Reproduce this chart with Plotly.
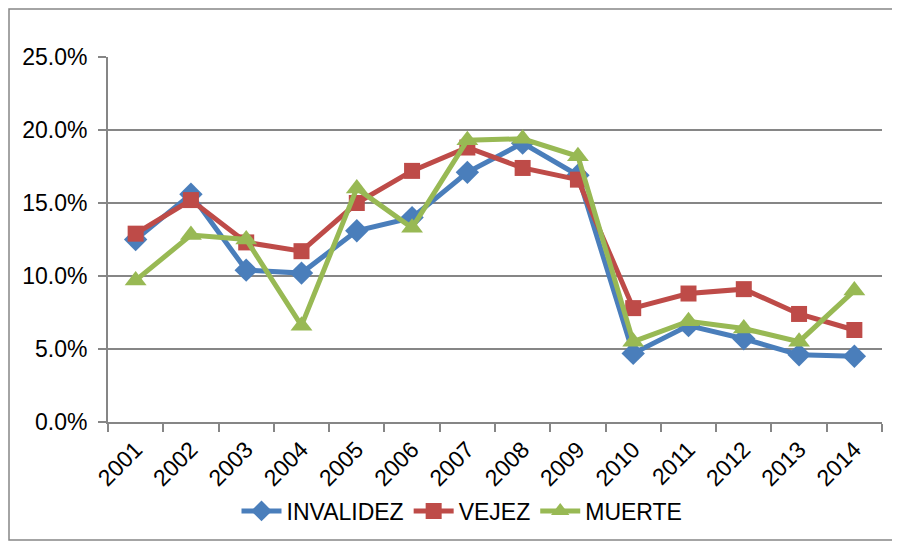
import plotly.graph_objects as go

years = ["2001", "2002", "2003", "2004", "2005", "2006", "2007",
         "2008", "2009", "2010", "2011", "2012", "2013", "2014"]
invalidez = [12.5, 15.6, 10.4, 10.2, 13.1, 14.0, 17.1, 19.1, 16.9, 4.7, 6.6, 5.7, 4.6, 4.5]
vejez = [12.9, 15.2, 12.3, 11.7, 15.0, 17.2, 18.8, 17.4, 16.6, 7.8, 8.8, 9.1, 7.4, 6.3]
muerte = [9.7, 12.8, 12.5, 6.6, 16.0, 13.3, 19.3, 19.4, 18.2, 5.5, 6.9, 6.4, 5.5, 9.0]
y_ticks = [0, 0.05, 0.10, 0.15, 0.20, 0.25]

FONT = "Liberation Sans, Arial, sans-serif"
FS = 23

series = [
    ("INVALIDEZ", invalidez, "#4A7EBB", "diamond", 18),
    ("VEJEZ", vejez, "#BE4B48", "square", 16),
    ("MUERTE", muerte, "#98B954", "triangle-up", 19),
]

fig = go.Figure()
for name, vals, color, sym, size in series:
    fig.add_trace(go.Scatter(
        x=years, y=[v / 100 for v in vals], name=name,
        mode="lines+markers",
        line=dict(color=color, width=5),
        marker=dict(symbol=sym, size=size, color=color),
    ))

# page has an 8px body margin: figure occupies page (8..900, 8..546)
OFF = 8
W, H = 900 - OFF, 546 - OFF
PL, PR, PT, PB = 108, 882, 57, 422          # plot area in page pixels
L, R, T, B = PL - OFF, W - (PR - OFF), PT - OFF, H - (PB - OFF)
pw, ph = PR - PL, PB - PT


def px(x):
    return (x - PL) / pw


def py(y):
    return (PB - y) / ph


fig.update_layout(
    width=W, height=H,
    margin=dict(l=L, r=R, t=T, b=B, autoexpand=False),
    paper_bgcolor="white", plot_bgcolor="white",
    font=dict(family=FONT, size=FS, color="#000000"),
    showlegend=True,
    legend=dict(orientation="h", x=px(462), xanchor="center", y=py(511),
                yanchor="middle", font=dict(family=FONT, size=FS),
                itemwidth=40, tracegroupgap=0),
    xaxis=dict(
        type="category", tickangle=-45, showgrid=False, automargin=False,
        showline=True, linecolor="#868686", linewidth=2,
        ticks="outside", ticklen=8, tickcolor="#868686", tickwidth=2,
        tickson="boundaries", range=[-0.5, 13.5], ticklabelstandoff=3,
        tickfont=dict(family=FONT, size=FS),
    ),
    yaxis=dict(
        range=[0, 0.25], tickvals=y_ticks, tickformat=".1%", automargin=False,
        showgrid=True, gridcolor="#868686", gridwidth=2,
        showline=True, linecolor="#868686", linewidth=2,
        ticks="outside", ticklen=8, tickcolor="#868686", tickwidth=2,
        ticklabelstandoff=6,
        zeroline=False, tickfont=dict(family=FONT, size=FS),
    ),
)

fig.add_shape(type="rect", xref="paper", yref="paper",
              x0=px(9), x1=px(893), y0=py(540), y1=py(9),
              line=dict(color="#868686", width=1.5), layer="below")

fig.write_html("out.html")
